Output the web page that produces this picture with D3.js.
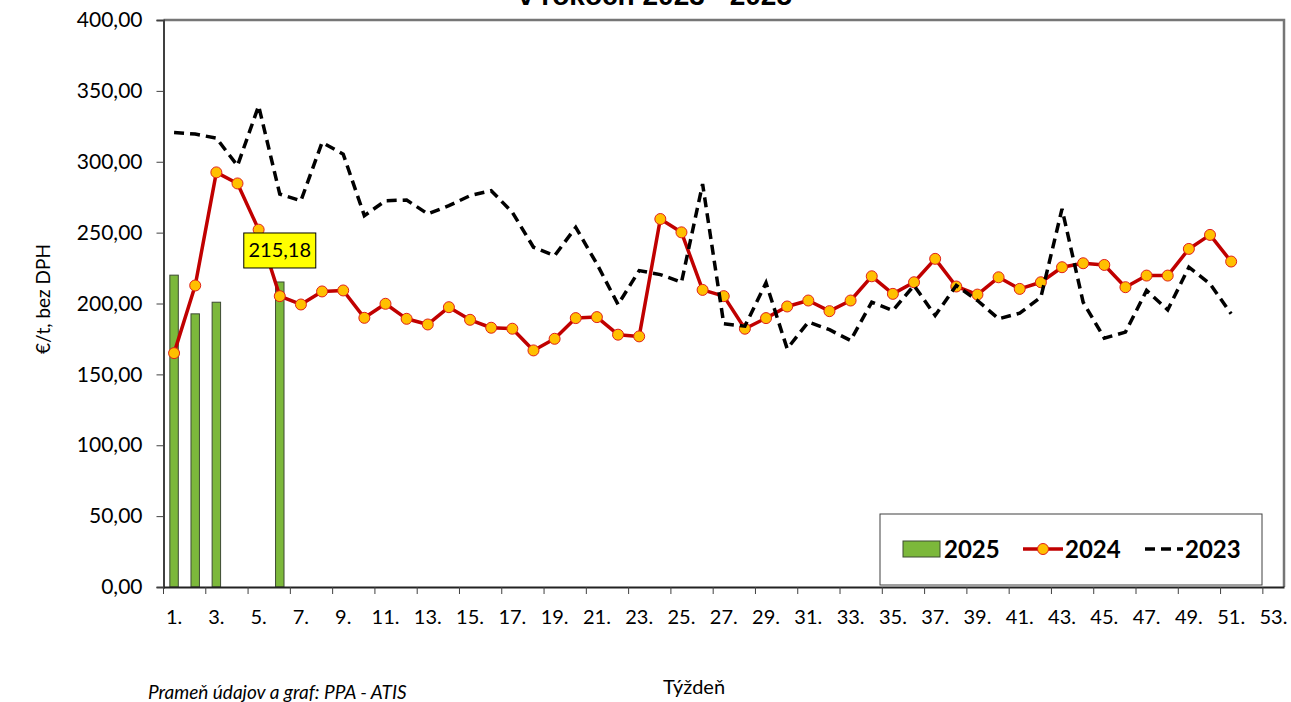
<!DOCTYPE html>
<html>
<head>
<meta charset="utf-8">
<script src="https://cdn.jsdelivr.net/npm/d3@7"></script>
<style>
  body { margin: 0; background: #fff; }
  svg { display: block; }
</style>
</head>
<body>
<svg id="chart" width="1291" height="702"></svg>
<script>
// weeks 1..53 (category axis)
const weeks = d3.range(1, 54);
const yTicks = [0, 50, 100, 150, 200, 250, 300, 350, 400];

// 2025 - bars (weeks 4, 5 missing)
const val2025 = [220.0, 192.7, 200.9, null, null, 215.18];

// 2024 - red line with markers
const val2024 = [165.0, 212.7, 292.5, 284.7, 252.1, 205.2, 199.3, 208.5, 209.2, 189.9,
  199.8, 189.2, 185.2, 197.4, 188.5, 182.9, 182.2, 166.9, 175.1, 189.7,
  190.4, 178.0, 176.8, 259.6, 250.2, 209.6, 205.2, 182.2, 189.7, 197.9,
  202.1, 194.6, 202.1, 219.2, 206.8, 215.0, 231.5, 212.0, 206.3, 218.5,
  210.3, 215.0, 225.6, 228.4, 227.2, 211.5, 219.7, 219.7, 238.5, 248.4, 229.6];

// 2023 - dashed black line
const val2023 = [320.6, 319.5, 316.7, 297.2, 339.4, 277.2, 272.5, 313.6, 305.4, 262.0,
  272.5, 273.0, 263.2, 269.0, 276.1, 279.6, 264.3, 239.7, 233.8, 253.7,
  227.9, 199.3, 223.2, 220.4, 215.0, 284.3, 185.7, 184.0, 214.6, 168.1,
  186.9, 181.5, 173.9, 200.9, 195.1, 212.7, 191.5, 212.7, 202.1, 189.2,
  193.2, 204.4, 266.7, 200.9, 175.6, 179.8, 209.2, 195.5, 225.6, 213.9, 192.7];

const labelWeek = 6; // data label shown on 2025 bar

const svg = d3.select("#chart");
const mLeft = 163.5, mRight = 1284, mTop = 20, mBottom = 587;
const fontTxt = "Lato, 'Open Sans', sans-serif";

const x = d3.scaleBand().domain(weeks).range([mLeft, mRight]).padding(0);
const y = d3.scaleLinear().domain([0, 400]).range([mBottom, mTop]);
const bw = x.bandwidth();
const cx = w => x(w) + bw / 2;
const fmt = v => d3.format(".2f")(v).replace(".", ",");

// title (upper line is out of view)
svg.append("text")
  .attr("x", 655).attr("y", 5)
  .attr("text-anchor", "middle")
  .attr("font-family", "'Liberation Sans', Arial, sans-serif")
  .attr("font-weight", "bold").attr("font-size", 28)
  .text("v rokoch 2023 - 2025");

// plot frame (top + right, gray)
svg.append("path")
  .attr("d", `M${mLeft},${mTop}H${mRight}V${mBottom}`)
  .attr("fill", "none").attr("stroke", "#767676").attr("stroke-width", 2.5);

// bars 2025
const bars = val2025.map((v, i) => ({ w: weeks[i], v })).filter(d => d.v != null);
svg.append("g").selectAll("rect").data(bars).join("rect")
  .attr("x", d => cx(d.w) - bw * 0.2)
  .attr("width", bw * 0.4)
  .attr("y", d => y(d.v))
  .attr("height", d => y(0) - y(d.v))
  .attr("fill", "#7cb83b").attr("stroke", "#3d4a33").attr("stroke-width", 1);

// 2024 line
const d2024 = val2024.map((v, i) => ({ w: weeks[i], v }));
const line = d3.line().x(d => cx(d.w)).y(d => y(d.v));
svg.append("path").datum(d2024)
  .attr("d", line).attr("fill", "none")
  .attr("stroke", "#c00000").attr("stroke-width", 3.5).attr("stroke-linejoin", "round");
svg.append("g").selectAll("circle").data(d2024).join("circle")
  .attr("cx", d => cx(d.w)).attr("cy", d => y(d.v)).attr("r", 5.5)
  .attr("fill", "#ffc000").attr("stroke", "#e0201a").attr("stroke-width", 1);

// 2023 dashed line
const d2023 = val2023.map((v, i) => ({ w: weeks[i], v }));
svg.append("path").datum(d2023)
  .attr("d", line).attr("fill", "none")
  .attr("stroke", "#000").attr("stroke-width", 3.5)
  .attr("stroke-dasharray", "10,6");

// data label on week 6 bar
const lv = val2025[labelWeek - 1];
const lab = svg.append("g").attr("transform", `translate(${cx(labelWeek)},${y(lv) - 32})`);
lab.append("rect").attr("x", -36).attr("y", -17).attr("width", 72).attr("height", 35)
  .attr("fill", "#ffff00").attr("stroke", "#000").attr("stroke-width", 1);
lab.append("text").attr("text-anchor", "middle").attr("dy", "0.35em")
  .attr("font-family", fontTxt).attr("font-size", 20)
  .text(fmt(lv));

// y axis
const yAxis = svg.append("g").attr("transform", `translate(${mLeft},0)`)
  .call(d3.axisLeft(y).tickValues(yTicks).tickFormat(fmt).tickSize(7).tickPadding(14));
yAxis.select(".domain").attr("stroke", "#404040").attr("stroke-width", 2);
yAxis.selectAll(".tick line").attr("stroke", "#404040");
yAxis.selectAll("text").attr("font-family", fontTxt).attr("font-size", 21).attr("fill", "#000");

// x axis: labels on odd weeks, ticks on category boundaries
const oddWeeks = weeks.filter(w => w % 2 === 1);
const xAxis = svg.append("g").attr("transform", `translate(0,${mBottom})`)
  .call(d3.axisBottom(x).tickValues(oddWeeks).tickFormat(d => d + ".").tickSize(7).tickPadding(16).tickSizeOuter(0));
xAxis.select(".domain").attr("stroke", "#222").attr("stroke-width", 2);
xAxis.selectAll(".tick line").attr("x1", -bw / 2).attr("x2", -bw / 2).attr("stroke", "#404040");
xAxis.selectAll("text").attr("font-family", fontTxt).attr("font-size", 20).attr("fill", "#000");

// axis titles
svg.append("text")
  .attr("transform", "translate(50,299) rotate(-90)")
  .attr("text-anchor", "middle")
  .attr("font-family", fontTxt).attr("font-size", 19)
  .text("€/t, bez DPH");
svg.append("text")
  .attr("x", 694).attr("y", 694).attr("text-anchor", "middle")
  .attr("font-family", fontTxt).attr("font-size", 20)
  .text("Týždeň");
svg.append("text")
  .attr("x", 148).attr("y", 699)
  .attr("font-family", fontTxt).attr("font-size", 19).attr("font-style", "italic")
  .text("Prameň údajov a graf: PPA - ATIS");

// legend
const lg = svg.append("g").attr("transform", "translate(880,514)");
lg.append("rect").attr("width", 382).attr("height", 71)
  .attr("fill", "#fff").attr("stroke", "#404040").attr("stroke-width", 1);
const ly = 35;
lg.append("rect").attr("x", 23).attr("y", ly - 8).attr("width", 37).attr("height", 16)
  .attr("fill", "#7cb83b").attr("stroke", "#3d4a33");
lg.append("line").attr("x1", 143).attr("x2", 183).attr("y1", ly).attr("y2", ly)
  .attr("stroke", "#c00000").attr("stroke-width", 3.5);
lg.append("circle").attr("cx", 163).attr("cy", ly).attr("r", 5.5)
  .attr("fill", "#ffc000").attr("stroke", "#e0201a");
lg.append("line").attr("x1", 265).attr("x2", 303).attr("y1", ly).attr("y2", ly)
  .attr("stroke", "#000").attr("stroke-width", 3.5).attr("stroke-dasharray", "10,6");
const legTxt = [["2025", 64], ["2024", 185], ["2023", 305]];
lg.selectAll("text.lt").data(legTxt).join("text")
  .attr("x", d => d[1]).attr("y", ly).attr("dy", "0.36em")
  .attr("font-family", fontTxt).attr("font-weight", "bold").attr("font-size", 24)
  .text(d => d[0]);
</script>
</body>
</html>
